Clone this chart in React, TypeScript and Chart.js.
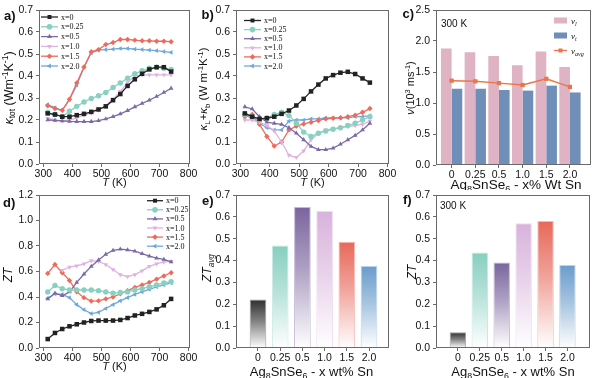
import React, { useEffect, useRef } from 'react';
import { Chart, registerables } from 'chart.js';
import { drawPoint } from 'chart.js/helpers';

Chart.register(...registerables);

// ---------------- data ----------------
const T = [315, 340, 365, 390, 415, 440, 465, 490, 515, 540, 565, 590, 615, 640, 665, 690, 715, 740];
const seriesLabels = ['x=0', 'x=0.25', 'x=0.5', 'x=1.0', 'x=1.5', 'x=2.0'];
const tTicks = [300, 400, 500, 600, 700, 800];

// a) kappa_tot
const kTot_0 = [0.23, 0.225, 0.215, 0.215, 0.222, 0.228, 0.237, 0.248, 0.262, 0.29, 0.318, 0.355, 0.385, 0.41, 0.43, 0.44, 0.44, 0.42];
const kTot_025 = [0.235, 0.225, 0.215, 0.24, 0.262, 0.282, 0.298, 0.31, 0.325, 0.348, 0.368, 0.39, 0.41, 0.424, 0.435, 0.44, 0.435, 0.43];
const kTot_05 = [0.2, 0.198, 0.196, 0.194, 0.193, 0.193, 0.193, 0.197, 0.205, 0.215, 0.228, 0.243, 0.26, 0.275, 0.29, 0.307, 0.325, 0.344];
const kTot_10 = [0.208, 0.2, 0.195, 0.2, 0.21, 0.222, 0.232, 0.245, 0.265, 0.295, 0.33, 0.37, 0.4, 0.405, 0.405, 0.405, 0.405, 0.405];
const kTot_15 = [0.265, 0.252, 0.244, 0.294, 0.368, 0.441, 0.51, 0.52, 0.543, 0.552, 0.566, 0.566, 0.563, 0.56, 0.56, 0.558, 0.558, 0.556];
const kTot_20 = [0.27, 0.256, 0.244, 0.294, 0.358, 0.44, 0.505, 0.518, 0.52, 0.522, 0.525, 0.525, 0.522, 0.52, 0.518, 0.515, 0.511, 0.507];

// b) kappa_L + kappa_b
const kLb_0 = [0.23, 0.215, 0.205, 0.208, 0.215, 0.228, 0.243, 0.266, 0.296, 0.33, 0.361, 0.389, 0.404, 0.415, 0.419, 0.409, 0.389, 0.37];
const kLb_025 = [0.225, 0.215, 0.2, 0.21, 0.225, 0.235, 0.22, 0.185, 0.145, 0.125, 0.14, 0.15, 0.158, 0.165, 0.175, 0.185, 0.2, 0.215];
const kLb_05 = [0.26, 0.25, 0.215, 0.19, 0.185, 0.18, 0.165, 0.14, 0.11, 0.08, 0.065, 0.065, 0.072, 0.09, 0.11, 0.13, 0.155, 0.185];
const kLb_10 = [0.2, 0.2, 0.19, 0.175, 0.15, 0.1, 0.04, 0.03, 0.06, 0.11, 0.14, 0.155, 0.16, 0.165, 0.17, 0.175, 0.18, 0.195];
const kLb_15 = [0.215, 0.225, 0.18, 0.125, 0.082, 0.1, 0.155, 0.172, 0.182, 0.19, 0.198, 0.205, 0.208, 0.21, 0.215, 0.222, 0.235, 0.252];
const kLb_20 = [0.225, 0.205, 0.185, 0.165, 0.155, 0.155, 0.195, 0.2, 0.2, 0.205, 0.205, 0.21, 0.21, 0.21, 0.21, 0.215, 0.215, 0.22];

// d) ZT
const zt_0 = [0.07, 0.118, 0.149, 0.17, 0.186, 0.2, 0.212, 0.215, 0.215, 0.215, 0.22, 0.235, 0.255, 0.268, 0.283, 0.303, 0.335, 0.385];
const zt_025 = [0.44, 0.49, 0.465, 0.455, 0.455, 0.455, 0.455, 0.45, 0.44, 0.43, 0.435, 0.44, 0.455, 0.465, 0.48, 0.495, 0.51, 0.52];
const zt_05 = [0.385, 0.43, 0.41, 0.44, 0.515, 0.58, 0.64, 0.69, 0.735, 0.765, 0.775, 0.77, 0.76, 0.74, 0.72, 0.705, 0.695, 0.675];
const zt_10 = [null, null, 0.61, 0.635, 0.645, 0.66, 0.685, 0.68, 0.655, 0.615, 0.575, 0.56, 0.575, 0.605, 0.64, 0.66, 0.675, 0.68];
const zt_15 = [0.585, 0.655, 0.59, 0.53, 0.44, 0.395, 0.368, 0.37, 0.385, 0.4, 0.425, 0.45, 0.475, 0.495, 0.515, 0.54, 0.565, 0.59];
const zt_20 = [0.39, 0.425, 0.42, 0.395, 0.34, 0.3, 0.27, 0.28, 0.31, 0.34, 0.37, 0.395, 0.42, 0.44, 0.46, 0.48, 0.495, 0.51];

// c) sound velocity
const compLabels = ['0', '0.25', '0.5', '1.0', '1.5', '2.0'];
const vL = [1.88, 1.82, 1.76, 1.61, 1.83, 1.58];
const vT = [1.23, 1.23, 1.21, 1.2, 1.28, 1.17];
const vAvg = [1.36, 1.35, 1.32, 1.29, 1.39, 1.26];

// e) ZT avg, f) ZT at 300 K
const ztAvg = [0.222, 0.469, 0.645, 0.627, 0.486, 0.375];
const zt300 = [0.072, 0.437, 0.391, 0.571, 0.581, 0.38];

const yTicks07 = [0, 0.1, 0.2, 0.3, 0.4, 0.5, 0.6, 0.7];
const yTicks25 = [0, 0.5, 1.0, 1.5, 2.0, 2.5];
const yTicks12 = [0, 0.2, 0.4, 0.6, 0.8, 1.0, 1.2];

// ---------------- styles ----------------
const SERIES_COLORS = ['#222222', '#88d0c0', '#7b6aa8', '#dfb2e2', '#ef6a5a', '#6fa8dc'];
const SERIES_MARKERS = [
  { style: 'rect', rot: 0 },
  { style: 'circle', rot: 0 },
  { style: 'triangle', rot: 0 },
  { style: 'triangle', rot: 180 },
  { style: 'rectRot', rot: 0 },
  { style: 'triangle', rot: -90 },
];
const BAR_COLORS = ['#2e2e2e', '#86cfbf', '#7a649e', '#d8b2dc', '#e8685a', '#6a9ccc'];
const SANS = "'Liberation Sans', Arial, sans-serif";
const SERIF = "'Liberation Serif', 'Times New Roman', serif";
const TICK_FONT = { family: SANS, size: 10.5 };
const TEXT = '#111111';
const FRAME = '#6a6a6a';

type Seg = { t: string; it?: boolean; b?: boolean; sub?: boolean; sup?: boolean };

const titleT: Seg[] = [{ t: 'T', it: true }, { t: ' (K)' }];
const titleKtot: Seg[] = [{ t: 'κ', it: true }, { t: 'tot', sub: true }, { t: ' (Wm' }, { t: '-1', sup: true }, { t: 'K' }, { t: '-1', sup: true }, { t: ')' }];
const titleKLb: Seg[] = [{ t: 'κ', it: true }, { t: 'L', sub: true }, { t: '+κ', it: true }, { t: 'b', sub: true }, { t: ' (W m' }, { t: '-1', sup: true }, { t: 'K' }, { t: '-1', sup: true }, { t: ')' }];
const titleV: Seg[] = [{ t: 'ν', it: true }, { t: '(10' }, { t: '3', sup: true }, { t: ' ms' }, { t: '-1', sup: true }, { t: ')' }];
const titleCompC: Seg[] = [{ t: 'Ag' }, { t: '8', sub: true }, { t: 'SnSe' }, { t: '6', sub: true }, { t: ' - x% Wt Sn' }];
const titleCompE: Seg[] = [{ t: 'Ag' }, { t: '8', sub: true }, { t: 'SnSe' }, { t: '6', sub: true }, { t: ' - x wt% Sn' }];
const titleZT: Seg[] = [{ t: 'ZT', it: true }];
const titleZTavg: Seg[] = [{ t: 'ZT', it: true }, { t: 'avg', it: true, sub: true }];

function drawRich(ctx: CanvasRenderingContext2D, segs: Seg[], x: number, y: number, size: number, rotate = false, align: 'center' | 'left' = 'center', family = SANS) {
  ctx.save();
  ctx.translate(x, y);
  if (rotate) ctx.rotate(-Math.PI / 2);
  const fontFor = (s: Seg) => `${s.it ? 'italic ' : ''}${s.b ? 'bold ' : ''}${s.sub || s.sup ? size * 0.68 : size}px ${family}`;
  let total = 0;
  const widths = segs.map((s) => {
    ctx.font = fontFor(s);
    const w = ctx.measureText(s.t).width;
    total += w;
    return w;
  });
  let cx = align === 'center' ? -total / 2 : 0;
  ctx.textAlign = 'left';
  ctx.textBaseline = 'alphabetic';
  ctx.fillStyle = TEXT;
  segs.forEach((s, i) => {
    ctx.font = fontFor(s);
    let dy = size * 0.36;
    if (s.sub) dy += size * 0.22;
    if (s.sup) dy -= size * 0.38;
    ctx.fillText(s.t, cx, dy);
    cx += widths[i];
  });
  ctx.restore();
}

type TitleCfg = { segs: Seg[]; x: number; y: number; size: number; rotate?: boolean };
type DecorCfg = {
  titles: TitleCfg[];
  seriesLegend?: { x: number; y: number; dy: number; len: number };
  vLegend?: { x: number; y: number };
  note?: { text: string; x: number; y: number };
};

function makeDecor(cfg: DecorCfg) {
  return {
    id: 'decor',
    afterDraw(chart: any) {
      const ctx: CanvasRenderingContext2D = chart.ctx;
      const a = chart.chartArea;
      ctx.save();
      ctx.strokeStyle = FRAME;
      ctx.lineWidth = 1;
      ctx.strokeRect(Math.round(a.left) + 0.5, Math.round(a.top) + 0.5, Math.round(a.right - a.left) - 1, Math.round(a.bottom - a.top) - 1);
      ctx.restore();
      cfg.titles.forEach((t) => drawRich(ctx, t.segs, t.x, t.y, t.size, !!t.rotate));
      if (cfg.note) {
        ctx.save();
        ctx.font = `10px ${SANS}`;
        ctx.fillStyle = TEXT;
        ctx.textBaseline = 'middle';
        ctx.fillText(cfg.note.text, cfg.note.x, cfg.note.y);
        ctx.restore();
      }
      if (cfg.seriesLegend) {
        const L = cfg.seriesLegend;
        chart.data.datasets.forEach((ds: any, i: number) => {
          const y = L.y + i * L.dy;
          ctx.save();
          ctx.strokeStyle = SERIES_COLORS[i];
          ctx.fillStyle = SERIES_COLORS[i];
          ctx.lineWidth = 1.3;
          ctx.beginPath();
          ctx.moveTo(L.x, y);
          ctx.lineTo(L.x + L.len, y);
          ctx.stroke();
          drawPoint(ctx, { pointStyle: SERIES_MARKERS[i].style as any, rotation: SERIES_MARKERS[i].rot, radius: 2.8, borderWidth: 0 } as any, L.x + L.len / 2, y);
          ctx.font = `8px ${SERIF}`;
          ctx.fillStyle = TEXT;
          ctx.textBaseline = 'middle';
          ctx.fillText(ds.label, L.x + L.len + 3, y + 0.5);
          ctx.restore();
        });
      }
      if (cfg.vLegend) {
        const { x, y } = cfg.vLegend;
        ctx.save();
        ctx.fillStyle = '#dfb3c3';
        ctx.fillRect(x, y - 3, 13, 6);
        ctx.fillStyle = '#6f8fb9';
        ctx.fillRect(x, y + 12, 13, 6);
        ctx.strokeStyle = '#e9764b';
        ctx.fillStyle = '#e9764b';
        ctx.lineWidth = 1.3;
        ctx.beginPath();
        ctx.moveTo(x, y + 30);
        ctx.lineTo(x + 13, y + 30);
        ctx.stroke();
        ctx.fillRect(x + 4.5, y + 28, 4, 4);
        ctx.restore();
        drawRich(ctx, [{ t: 'ν', it: true }, { t: 'l', it: true, sub: true }], x + 17, y, 9, false, 'left', SERIF);
        drawRich(ctx, [{ t: 'ν', it: true }, { t: 't', it: true, sub: true }], x + 17, y + 15, 9, false, 'left', SERIF);
        drawRich(ctx, [{ t: 'ν', it: true }, { t: 'avg', it: true, sub: true }], x + 17, y + 30, 9, false, 'left', SERIF);
      }
    },
  };
}

function hexMix(hex: string, w: number) {
  const n = parseInt(hex.slice(1), 16);
  const r = (n >> 16) & 255, g = (n >> 8) & 255, b = n & 255;
  const m = (c: number) => Math.round(c + (255 - c) * w);
  return `rgb(${m(r)},${m(g)},${m(b)})`;
}
function hexAlpha(hex: string, a: number) {
  const n = parseInt(hex.slice(1), 16);
  return `rgba(${(n >> 16) & 255},${(n >> 8) & 255},${n & 255},${a})`;
}

type Box = { left: number; top: number; w: number; h: number; area: { left: number; top: number; right: number; bottom: number } };

function axisCommon(box: Box) {
  const grid = { drawOnChartArea: false, drawTicks: true, tickLength: 3, color: FRAME, offset: false };
  return {
    x: {
      offset: false,
      grid,
      border: { display: false },
      afterFit: (s: any) => { s.height = box.h - box.area.bottom; },
      ticks: { font: TICK_FONT, color: TEXT, padding: 1, maxRotation: 0, autoSkip: false },
    },
    y: {
      grid,
      border: { display: false },
      afterFit: (s: any) => { s.width = box.area.left; },
      ticks: { font: TICK_FONT, color: TEXT, padding: 3, callback: (v: number) => Number(v).toFixed(1) },
    },
  };
}

function baseOptions(box: Box) {
  return {
    animation: false,
    responsive: false,
    maintainAspectRatio: false,
    devicePixelRatio: 1,
    events: [],
    layout: { padding: { left: 0, top: box.area.top, right: box.w - box.area.right, bottom: 0 } },
    plugins: { legend: { display: false }, tooltip: { enabled: false }, title: { display: false } },
  };
}

function lineConfig(box: Box, series: (number | null)[][], yMax: number, yTicks: number[], decor: DecorCfg) {
  const ax = axisCommon(box);
  return {
    type: 'line',
    data: {
      datasets: series.map((vals, i) => ({
        label: seriesLabels[i],
        data: T.map((t, j) => ({ x: t, y: vals[j] })),
        borderColor: SERIES_COLORS[i],
        backgroundColor: SERIES_COLORS[i],
        borderWidth: 1.3,
        pointStyle: SERIES_MARKERS[i].style,
        pointRotation: SERIES_MARKERS[i].rot,
        pointRadius: SERIES_MARKERS[i].style === 'rect' ? 3.2 : 2.7,
        pointBorderWidth: 0,
        tension: 0,
      })),
    },
    options: {
      ...baseOptions(box),
      scales: {
        x: {
          ...ax.x,
          type: 'linear',
          min: 285,
          max: 805,
          afterBuildTicks: (s: any) => { s.ticks = tTicks.map((v) => ({ value: v })); },
          ticks: { ...ax.x.ticks, callback: (v: number) => String(v) },
        },
        y: {
          ...ax.y,
          type: 'linear',
          min: 0,
          max: yMax,
          afterBuildTicks: (s: any) => { s.ticks = yTicks.map((v) => ({ value: v })); },
        },
      },
    },
    plugins: [makeDecor(decor)],
  };
}

function catXScale(box: Box, min: number, max: number) {
  const ax = axisCommon(box);
  return {
    ...ax.x,
    type: 'linear',
    min,
    max,
    afterBuildTicks: (s: any) => { s.ticks = compLabels.map((_, i) => ({ value: i })); },
    ticks: { ...ax.x.ticks, callback: (v: number) => compLabels[Math.round(v)] ?? '' },
  };
}

function gradientBarConfig(box: Box, values: number[], xMin: number, xMax: number, decor: DecorCfg) {
  const ax = axisCommon(box);
  return {
    type: 'bar',
    data: {
      datasets: [
        {
          label: 'ZT',
          data: values.map((v, i) => ({ x: i, y: v })),
          categoryPercentage: 1,
          barPercentage: 0.75,
          borderWidth: 1,
          borderColor: BAR_COLORS.map((c) => hexAlpha(c, 0.45)),
          backgroundColor: (ctx: any) => {
            const c = BAR_COLORS[ctx.dataIndex % BAR_COLORS.length];
            const chart = ctx.chart;
            const area = chart.chartArea;
            if (!area || ctx.type !== 'data') return c;
            const top = chart.scales.y.getPixelForValue(ctx.parsed.y);
            const g = chart.ctx.createLinearGradient(0, top, 0, area.bottom);
            g.addColorStop(0, c);
            g.addColorStop(0.45, hexMix(c, 0.4));
            g.addColorStop(1, '#ffffff');
            return g;
          },
        },
      ],
    },
    options: {
      ...baseOptions(box),
      scales: {
        x: catXScale(box, xMin, xMax),
        y: {
          ...ax.y,
          type: 'linear',
          min: 0,
          max: 0.7,
          afterBuildTicks: (s: any) => { s.ticks = yTicks07.map((v) => ({ value: v })); },
        },
      },
    },
    plugins: [makeDecor(decor)],
  };
}

function velocityConfig(box: Box, decor: DecorCfg) {
  const ax = axisCommon(box);
  return {
    type: 'bar',
    data: {
      datasets: [
        { type: 'bar', label: 'vl', data: vL.map((v, i) => ({ x: i, y: v })), backgroundColor: '#dfb3c3', categoryPercentage: 0.9, barPercentage: 1, order: 2 },
        { type: 'bar', label: 'vt', data: vT.map((v, i) => ({ x: i, y: v })), backgroundColor: '#6f8fb9', categoryPercentage: 0.9, barPercentage: 1, order: 2 },
        {
          type: 'line', label: 'vavg', data: vAvg.map((v, i) => ({ x: i, y: v })),
          borderColor: '#e9764b', backgroundColor: '#e9764b', borderWidth: 1.4,
          pointStyle: 'rect', pointRadius: 3, pointBorderWidth: 0, order: 0,
        },
      ],
    },
    options: {
      ...baseOptions(box),
      scales: {
        x: catXScale(box, -0.66, 5.89),
        y: {
          ...ax.y,
          type: 'linear',
          min: 0,
          max: 2.5,
          afterBuildTicks: (s: any) => { s.ticks = yTicks25.map((v) => ({ value: v })); },
        },
      },
    },
    plugins: [makeDecor(decor)],
  };
}

// ---------------- panels ----------------
const boxA: Box = { left: 0, top: 0, w: 200, h: 190, area: { left: 39, top: 10, right: 190, bottom: 164 } };
const boxB: Box = { left: 195, top: 0, w: 205, h: 190, area: { left: 41, top: 10, right: 194, bottom: 164 } };
const boxC: Box = { left: 400, top: 0, w: 200, h: 190, area: { left: 36, top: 10, right: 191, bottom: 165 } };
const boxD: Box = { left: 0, top: 185, w: 200, h: 193, area: { left: 39, top: 10, right: 190, bottom: 163 } };
const boxE: Box = { left: 195, top: 185, w: 205, h: 193, area: { left: 41, top: 10, right: 194, bottom: 163 } };
const boxF: Box = { left: 400, top: 185, w: 200, h: 193, area: { left: 36, top: 10, right: 190, bottom: 163 } };

const panels: { box: Box; build: () => any }[] = [
  {
    box: boxA,
    build: () => lineConfig(boxA, [kTot_0, kTot_025, kTot_05, kTot_10, kTot_15, kTot_20], 0.7, yTicks07, {
      titles: [
        { segs: titleT, x: 114.5, y: 182, size: 11 },
        { segs: titleKtot, x: 8, y: 88, size: 12.5, rotate: true },
      ],
      seriesLegend: { x: 41, y: 17, dy: 9.8, len: 17 },
    }),
  },
  {
    box: boxB,
    build: () => lineConfig(boxB, [kLb_0, kLb_025, kLb_05, kLb_10, kLb_15, kLb_20], 0.7, yTicks07, {
      titles: [
        { segs: titleT, x: 117.5, y: 182, size: 11 },
        { segs: titleKLb, x: 8, y: 89, size: 11.5, rotate: true },
      ],
      seriesLegend: { x: 49, y: 20.5, dy: 9.1, len: 17 },
    }),
  },
  {
    box: boxC,
    build: () => velocityConfig(boxC, {
      titles: [
        { segs: titleCompC, x: 116, y: 184, size: 13.5 },
        { segs: titleV, x: 10, y: 88, size: 11, rotate: true },
      ],
      vLegend: { x: 154, y: 20.5 },
      note: { text: '300 K', x: 41, y: 24 },
    }),
  },
  {
    box: boxD,
    build: () => lineConfig(boxD, [zt_0, zt_025, zt_05, zt_10, zt_15, zt_20], 1.2, yTicks12, {
      titles: [
        { segs: titleT, x: 114.5, y: 181.5, size: 11 },
        { segs: titleZT, x: 8, y: 90, size: 12, rotate: true },
      ],
      seriesLegend: { x: 147, y: 15.7, dy: 9.1, len: 16 },
    }),
  },
  {
    box: boxE,
    build: () => gradientBarConfig(boxE, ztAvg, -0.99, 5.9, {
      titles: [
        { segs: titleCompE, x: 116.5, y: 186, size: 13 },
        { segs: titleZTavg, x: 12, y: 83, size: 12, rotate: true },
      ],
    }),
  },
  {
    box: boxF,
    build: () => gradientBarConfig(boxF, zt300, -1.0, 6.03, {
      titles: [
        { segs: titleCompE, x: 113, y: 186, size: 13 },
        { segs: titleZT, x: 12, y: 87, size: 12, rotate: true },
      ],
      note: { text: '300 K', x: 40, y: 21.5 },
    }),
  },
];

const panelLetters = [
  { t: 'a)', x: 4, y: 9 },
  { t: 'b)', x: 201.5, y: 8 },
  { t: 'c)', x: 402.5, y: 7 },
  { t: 'd)', x: 3, y: 195.5 },
  { t: 'e)', x: 202, y: 194 },
  { t: 'f)', x: 403, y: 193 },
];

function Panel({ box, build }: { box: Box; build: () => any }) {
  const ref = useRef<HTMLCanvasElement>(null);
  useEffect(() => {
    if (!ref.current) return;
    const chart = new Chart(ref.current, build());
    return () => chart.destroy();
  }, []);
  return (
    <canvas
      ref={ref}
      width={box.w}
      height={box.h}
      style={{ position: 'absolute', left: box.left, top: box.top, width: box.w, height: box.h }}
    />
  );
}

export default function App() {
  return (
    <div style={{ position: 'absolute', left: 0, top: 0, width: 600, height: 378, background: '#ffffff', overflow: 'hidden' }}>
      {panels.map((p, i) => (
        <Panel key={i} box={p.box} build={p.build} />
      ))}
      {panelLetters.map((l) => (
        <div
          key={l.t}
          style={{ position: 'absolute', left: l.x, top: l.y, font: `bold 13px ${SANS}`, lineHeight: '14px', color: TEXT }}
        >
          {l.t}
        </div>
      ))}
    </div>
  );
}
